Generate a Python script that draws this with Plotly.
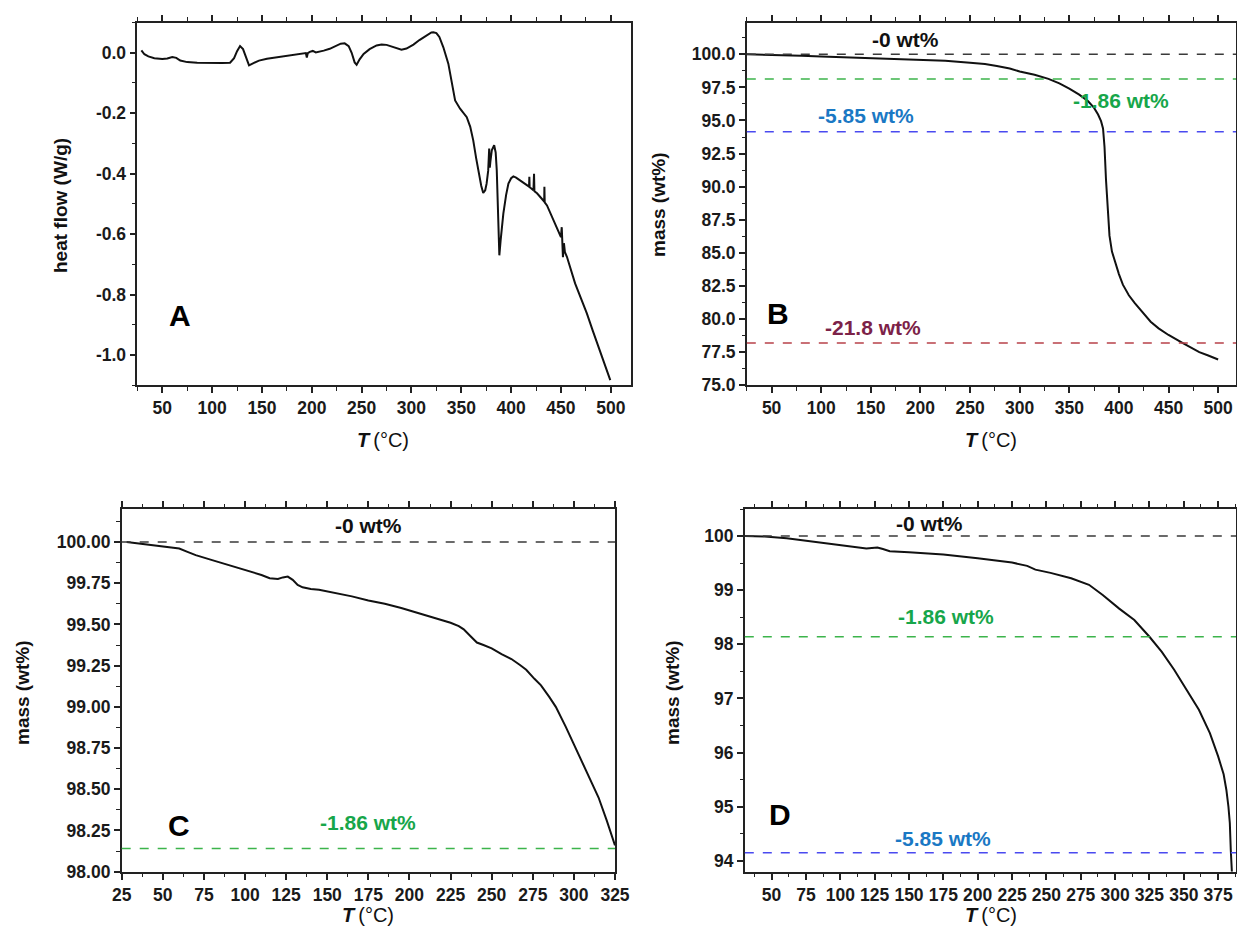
import plotly.graph_objects as go

# ---------------- data ----------------
# Panel A: DSC heat flow
A_T = [29, 32, 36, 42, 50, 55, 60, 64, 68, 75, 85, 100, 110, 118, 122, 125, 128, 131, 134, 137,
       141, 147, 155, 165, 175, 185, 192, 194, 195, 196, 198, 201, 204, 207, 212, 218, 224, 229,
       233, 237, 240, 243, 245, 248, 252, 258, 265, 270, 275, 280, 285, 290, 295, 302, 308, 315,
       320, 322, 325, 328, 332, 337, 340, 343.8, 348.8, 352, 355.5, 359, 362, 365, 367, 370, 372,
       374, 375.4, 377, 378, 378.6, 379.2, 380.6, 383, 384.5, 385.6, 387, 388.2, 389.5, 392.2, 395,
       397.3, 400, 402.3, 405, 409, 414, 418, 418.3, 418.6, 420, 422.4, 423, 423.4, 426, 429,
       433.2, 433.4, 433.7, 436, 442.4, 447, 450, 450.8, 451.2, 452, 453, 454, 456, 460, 464.2,
       470, 476, 482, 488, 494, 499.5]
A_HF = [0.008, -0.005, -0.012, -0.018, -0.021, -0.019, -0.014, -0.017, -0.026, -0.031, -0.033,
        -0.035, -0.034, -0.033, -0.018, 0.005, 0.022, 0.012, -0.015, -0.042, -0.035, -0.026,
        -0.020, -0.015, -0.011, -0.006, -0.002, -0.001, -0.016, -0.001, 0.003, 0.006, 0.001,
        0.003, 0.007, 0.013, 0.022, 0.030, 0.031, 0.022, 0.000, -0.032, -0.040, -0.022, -0.004,
        0.012, 0.024, 0.027, 0.026, 0.021, 0.014, 0.010, 0.014, 0.027, 0.042, 0.057, 0.067,
        0.068, 0.065, 0.052, 0.018, -0.036, -0.095, -0.158, -0.185, -0.198, -0.213, -0.245,
        -0.29, -0.35, -0.389, -0.44, -0.464, -0.455, -0.433, -0.39, -0.317, -0.38, -0.36,
        -0.323, -0.306, -0.33, -0.389, -0.55, -0.67, -0.62, -0.532, -0.47, -0.433, -0.415,
        -0.409, -0.413, -0.422, -0.435, -0.443, -0.41, -0.445, -0.448, -0.455, -0.40, -0.458,
        -0.465, -0.475, -0.492, -0.443, -0.495, -0.505, -0.554, -0.59, -0.61, -0.577, -0.62,
        -0.676, -0.63, -0.66, -0.675, -0.72, -0.763, -0.812, -0.862, -0.92, -0.975, -1.03, -1.083]

# Panel B: TGA full range
B_T = [25, 40, 60, 80, 100, 125, 150, 175, 200, 225, 250, 265, 277, 290, 300, 315, 329, 340,
       350, 360, 369, 375, 379, 382, 384, 385.5, 387, 388.5, 390.5, 393, 396, 400, 404, 410,
       416, 424, 432, 440, 450, 464, 481, 490, 500]
B_M = [100.0, 99.98, 99.95, 99.88, 99.83, 99.77, 99.70, 99.65, 99.59, 99.51, 99.36, 99.26,
       99.12, 98.92, 98.70, 98.45, 98.14, 97.8, 97.4, 96.95, 96.45, 95.95, 95.45, 94.95, 94.4,
       93.0, 90.5, 88.2, 86.3, 85.1, 84.3, 83.4, 82.6, 81.8, 81.2, 80.5, 79.8, 79.3, 78.8, 78.2,
       77.5, 77.25, 76.95]

# Panel C: TGA up to 325 °C
C_T = [28, 37, 45, 55, 60, 65, 70, 80, 90, 100, 110, 115, 120, 123, 126, 129, 132, 135, 140,
       145, 155, 165, 175, 185, 195, 200, 207, 214, 220, 225, 230, 233, 237, 241, 245, 250, 256,
       262, 267, 271, 276, 280, 285, 289, 295, 300, 305, 310, 315, 320, 325]
C_M = [100.0, 99.99, 99.98, 99.97, 99.96, 99.94, 99.92, 99.89, 99.86, 99.83, 99.80, 99.78,
       99.775, 99.785, 99.79, 99.77, 99.74, 99.725, 99.715, 99.71, 99.69, 99.67, 99.645, 99.625,
       99.60, 99.585, 99.565, 99.545, 99.525, 99.51, 99.49, 99.47, 99.43, 99.39, 99.375, 99.355,
       99.32, 99.29, 99.255, 99.225, 99.17, 99.13, 99.06, 99.0, 98.88, 98.77, 98.67, 98.56,
       98.45, 98.31, 98.16]

# Panel D: TGA up to ~385 °C
D_T = [30.5, 45, 61, 70, 76, 88, 100, 110, 119, 123, 127, 131, 136, 150, 175, 200, 225, 236,
       242, 253, 268, 281, 291, 303, 314, 325, 334, 343, 352, 361, 369, 375, 379, 381, 382.5,
       383.5, 384.2, 385]
D_M = [100.0, 99.99, 99.96, 99.93, 99.9, 99.86, 99.83, 99.80, 99.77, 99.78, 99.79, 99.76,
       99.72, 99.70, 99.66, 99.59, 99.51, 99.45, 99.38, 99.32, 99.22, 99.1, 98.91, 98.66,
       98.45, 98.14, 97.86, 97.53, 97.16, 96.79, 96.36, 95.93, 95.6, 95.31, 95.0, 94.7, 94.2,
       93.8]

# mass-loss reference levels (wt%)
LOSS = [0, 1.86, 5.85, 21.8]
LOSS_TEXT = ["-0 wt%", "-1.86 wt%", "-5.85 wt%", "-21.8 wt%"]
LOSS_LINE = ["#3a3a3a", "#3cb44b", "#4a4af0", "#b8424a"]
LOSS_FONT = ["#111111", "#17a64a", "#1a78c4", "#7c2248"]

A_YTICKS = [0.0, -0.2, -0.4, -0.6, -0.8, -1.0]
A_YTEXT = ["0.0", "-0.2", "-0.4", "-0.6", "-0.8", "-1.0"]

# ---------------- figure ----------------
W, H = 1237, 938
FONT = "Liberation Sans, Arial, sans-serif"
TICKSIZE = 17.5

fig = go.Figure()
line = dict(color="#111111", width=2)
fig.add_trace(go.Scatter(x=A_T, y=A_HF, mode="lines", line=line, xaxis="x", yaxis="y"))
fig.add_trace(go.Scatter(x=B_T, y=B_M, mode="lines", line=line, xaxis="x2", yaxis="y2"))
fig.add_trace(go.Scatter(x=C_T, y=C_M, mode="lines", line=line, xaxis="x3", yaxis="y3"))
fig.add_trace(go.Scatter(x=D_T, y=D_M, mode="lines", line=line, xaxis="x4", yaxis="y4"))


def dom(a, b, total):
    return [a / total, b / total]


def ydom(top, bottom):
    return [1 - bottom / H, 1 - top / H]


def xax(domain, rng, dtick, minor, anchor):
    return dict(domain=domain, range=rng, anchor=anchor, showgrid=False, zeroline=False,
                automargin=False,
                showline=True, linecolor="#222222", linewidth=1.6, mirror="allticks",
                ticks="outside", ticklen=6, tickwidth=1.6, tickcolor="#222222",
                tick0=0, dtick=dtick,
                minor=dict(ticks="outside", ticklen=3.5, tickwidth=1.4, tickcolor="#222222",
                           dtick=minor, tick0=0),
                tickfont=dict(family=FONT, size=TICKSIZE, color="#1a1a1a", weight="bold"))


def yax(domain, rng, dtick, minor, anchor, fmt):
    return dict(domain=domain, range=rng, anchor=anchor, showgrid=False, zeroline=False,
                automargin=False,
                showline=True, linecolor="#222222", linewidth=1.6, mirror=True,
                ticks="outside", ticklen=6, tickwidth=1.6, tickcolor="#222222",
                tick0=0, dtick=dtick, tickformat=fmt,
                minor=dict(ticks="outside", ticklen=3.5, tickwidth=1.4, tickcolor="#222222",
                           dtick=minor, tick0=0),
                tickfont=dict(family=FONT, size=TICKSIZE, color="#1a1a1a", weight="bold"))


top_y = ydom(22.5, 385.3)
bot_y = ydom(509, 871.7)

xa = xax(dom(137.4, 630.7, W), [25, 520], 50, 25, "y")
ya = yax(top_y, [-1.1, 0.1], 0.2, 0.1, "x", ".1f")
ya.update(tickmode="array", tickvals=A_YTICKS, ticktext=A_YTEXT)
xb = xax(dom(746.8, 1236, W), [25, 518], 50, 25, "y2")
yb = yax(top_y, [75, 102.4], 2.5, 1.25, "x2", ".1f")
xc = xax(dom(121.7, 615, W), [25, 325], 25, 12.5, "y3")
yc = yax(bot_y, [98.0, 100.2], 0.25, 0.125, "x3", ".2f")
xd = xax(dom(744.8, 1236, W), [30.5, 388], 25, 12.5, "y4")
yd = yax(bot_y, [93.8, 100.5], 1, 0.5, "x4", "d")

fig.update_layout(xaxis=xa, yaxis=ya, xaxis2=xb, yaxis2=yb, xaxis3=xc, yaxis3=yc,
                  xaxis4=xd, yaxis4=yd)

shapes = []
ann = []


def level(xref, yref, idx, tx, ty):
    yv = 100 - LOSS[idx]
    shapes.append(dict(type="line", xref=xref + " domain", yref=yref, x0=0, x1=1, y0=yv, y1=yv,
                       line=dict(color=LOSS_LINE[idx], width=1.5, dash="dash")))
    ann.append(dict(x=tx, y=ty, xref=xref, yref=yref, text=LOSS_TEXT[idx], showarrow=False,
                    xanchor="center", yanchor="middle",
                    font=dict(family=FONT, size=21, color=LOSS_FONT[idx], weight="bold")))


# Panel B levels
level("x2", "y2", 0, 185, 101.1)
level("x2", "y2", 1, 402, 96.5)
level("x2", "y2", 2, 145, 95.35)
level("x2", "y2", 3, 152, 79.35)
# Panel C levels
level("x3", "y3", 0, 175, 100.1)
level("x3", "y3", 1, 175, 98.3)
# Panel D levels
level("x4", "y4", 0, 165, 100.23)
level("x4", "y4", 1, 177, 98.52)
level("x4", "y4", 2, 175, 94.42)

# panel letters
for xr, yr, tx, ty, s in [("x", "y", 68, -0.868, "A"), ("x2", "y2", 56, 80.45, "B"),
                          ("x3", "y3", 60, 98.28, "C"), ("x4", "y4", 56, 94.85, "D")]:
    ann.append(dict(x=tx, y=ty, xref=xr, yref=yr, text=s, showarrow=False,
                    xanchor="center", yanchor="middle",
                    font=dict(family=FONT, size=30, color="#000000", weight="bold")))

# axis titles
ttl = "<b><i>T</i></b>\u2009(°C)"
for px, py in [(383, 440), (991, 440), (368, 915), (991, 915)]:
    ann.append(dict(x=px / W, y=1 - py / H, xref="paper", yref="paper", text=ttl,
                    xanchor="center", yanchor="middle",
                    showarrow=False, font=dict(family=FONT, size=20, color="#111111")))
for px, py, t in [(60, 205, "heat flow (W/g)"), (658, 205, "mass (wt%)"),
                  (22, 693, "mass (wt%)"), (672, 693, "mass (wt%)")]:
    ann.append(dict(x=px / W, y=1 - py / H, xref="paper", yref="paper", text=t,
                    textangle=-90, showarrow=False, xanchor="center", yanchor="middle",
                    font=dict(family=FONT, size=19, color="#111111", weight="bold")))

fig.update_layout(shapes=shapes, annotations=ann, showlegend=False, width=W, height=H,
                  margin=dict(l=0, r=0, t=0, b=0, autoexpand=False), paper_bgcolor="white",
                  plot_bgcolor="white")

fig.write_html("out.html", config={"displayModeBar": False},
               post_script="document.body.style.margin='0';"
                           "document.body.style.overflow='hidden';")
